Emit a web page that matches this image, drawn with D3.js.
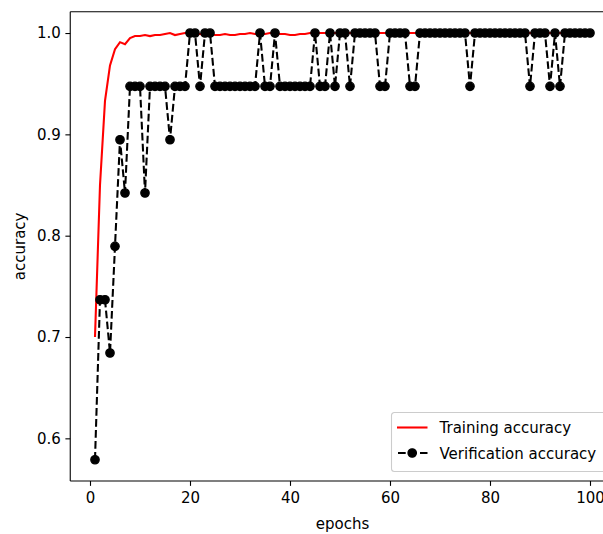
<!DOCTYPE html>
<html>
<head>
<meta charset="utf-8">
<script src="https://cdn.jsdelivr.net/npm/d3@7"></script>
<style>
  body { margin: 0; background: #fff; }
  svg { display: block; font-family: "DejaVu Sans", sans-serif; }
</style>
</head>
<body>
<div id="chart"></div>
<script>
const width = 603;
const height = 534;

// epochs 1..100
const epochs = d3.range(1, 101);

const trainingAcc = [
  0.700, 0.850, 0.933, 0.968, 0.984, 0.991, 0.989, 0.995, 0.997, 0.997,
  0.998, 0.997, 0.998, 0.998, 0.999, 1.000, 0.998, 0.999, 1.000, 1.000,
  0.999, 0.999, 0.998, 0.999, 0.998, 0.998, 0.999, 0.998, 0.998, 0.999,
  0.999, 1.000, 0.999, 0.999, 0.999, 1.000, 1.000, 0.999, 0.999, 0.998,
  0.998, 0.999, 0.999, 1.000, 1.000, 1.000, 1.000, 1.000, 1.000, 1.000,
  1.000, 1.000, 1.000, 1.000, 1.000, 1.000, 1.000, 1.000, 1.000, 1.000,
  1.000, 1.000, 1.000, 1.000, 1.000, 1.000, 1.000, 1.000, 1.000, 1.000,
  1.000, 1.000, 1.000, 1.000, 1.000, 1.000, 1.000, 1.000, 1.000, 1.000,
  1.000, 1.000, 1.000, 1.000, 1.000, 1.000, 1.000, 1.000, 1.000, 1.000,
  1.000, 1.000, 1.000, 1.000, 1.000, 1.000, 1.000, 1.000, 1.000, 1.000
];

const verificationAcc = [
  0.5789, 0.7368, 0.7368, 0.6842, 0.7895, 0.8947, 0.8421, 0.9474, 0.9474, 0.9474,
  0.8421, 0.9474, 0.9474, 0.9474, 0.9474, 0.8947, 0.9474, 0.9474, 0.9474, 1.0,
  1.0, 0.9474, 1.0, 1.0, 0.9474, 0.9474, 0.9474, 0.9474, 0.9474, 0.9474,
  0.9474, 0.9474, 0.9474, 1.0, 0.9474, 0.9474, 1.0, 0.9474, 0.9474, 0.9474,
  0.9474, 0.9474, 0.9474, 0.9474, 1.0, 0.9474, 0.9474, 1.0, 0.9474, 1.0,
  1.0, 0.9474, 1.0, 1.0, 1.0, 1.0, 1.0, 0.9474, 0.9474, 1.0,
  1.0, 1.0, 1.0, 0.9474, 0.9474, 1.0, 1.0, 1.0, 1.0, 1.0,
  1.0, 1.0, 1.0, 1.0, 1.0, 0.9474, 1.0, 1.0, 1.0, 1.0,
  1.0, 1.0, 1.0, 1.0, 1.0, 1.0, 1.0, 0.9474, 1.0, 1.0,
  1.0, 0.9474, 1.0, 0.9474, 1.0, 1.0, 1.0, 1.0, 1.0, 1.0
];

const xTicks = [0, 20, 40, 60, 80, 100];
const yTicks = [0.6, 0.7, 0.8, 0.9, 1.0];
const seriesNames = ["Training accuracy", "Verification accuracy"];

const svg = d3.select("#chart").append("svg").attr("width", width).attr("height", height);

// plot area (right edge runs past the window, as in the original)
const plotLeft = 70.25, plotRight = 614.75, plotTop = 11.7, plotBottom = 481;

const x = d3.scaleLinear().domain([-3.95, 104.95]).range([plotLeft, plotRight]);
const y = d3.scaleLinear().domain([0.5579, 1.02105]).range([plotBottom, plotTop]);

const tickFont = "15px";

// axes
const xAxis = d3.axisBottom(x).tickValues(xTicks).tickSize(4.86).tickPadding(6).tickSizeOuter(0);
const yAxis = d3.axisLeft(y).tickValues(yTicks).tickSize(4.86).tickPadding(4.5).tickSizeOuter(0)
  .tickFormat(d3.format(".1f"));

const gx = svg.append("g").attr("transform", `translate(0,${plotBottom})`).call(xAxis);
const gy = svg.append("g").attr("transform", `translate(${plotLeft},0)`).call(yAxis);
[gx, gy].forEach(g => {
  g.select(".domain").remove();
  g.selectAll("line").attr("stroke", "#000").attr("stroke-width", 1.1);
  g.selectAll("text").attr("fill", "#000").style("font-size", tickFont).style("font-family", "DejaVu Sans");
});

// spines
svg.append("line").attr("x1", plotLeft).attr("x2", plotLeft).attr("y1", plotTop).attr("y2", plotBottom)
  .attr("stroke", "#000").attr("stroke-width", 1.1);
svg.append("line").attr("x1", plotLeft).attr("x2", plotRight).attr("y1", plotBottom).attr("y2", plotBottom)
  .attr("stroke", "#000").attr("stroke-width", 1.1);
svg.append("line").attr("x1", plotLeft).attr("x2", plotRight).attr("y1", plotTop).attr("y2", plotTop)
  .attr("stroke", "#000").attr("stroke-width", 1.1);

// axis labels
svg.append("text").attr("x", (plotLeft + plotRight) / 2).attr("y", 529)
  .attr("text-anchor", "middle").style("font-size", tickFont).text("epochs");
svg.append("text").attr("transform", `translate(25,${(plotTop + plotBottom) / 2}) rotate(-90)`)
  .attr("text-anchor", "middle").style("font-size", tickFont).text("accuracy");

const line = d3.line().x((d, i) => x(epochs[i])).y(d => y(d));

svg.append("path").datum(trainingAcc).attr("d", line)
  .attr("fill", "none").attr("stroke", "red").attr("stroke-width", 2.08);

svg.append("path").datum(verificationAcc).attr("d", line)
  .attr("fill", "none").attr("stroke", "#000").attr("stroke-width", 2.08)
  .attr("stroke-dasharray", "7.7,3.3");

svg.append("g").selectAll("circle").data(verificationAcc).join("circle")
  .attr("cx", (d, i) => x(epochs[i])).attr("cy", d => y(d)).attr("r", 4.15)
  .attr("fill", "#000").attr("stroke", "#000").attr("stroke-width", 1.39);

// legend, lower right
const lg = svg.append("g").attr("transform", "translate(391.5,412.5)");
lg.append("rect").attr("width", 216).attr("height", 59).attr("rx", 3)
  .attr("fill", "#fff").attr("fill-opacity", 0.8).attr("stroke", "#ccc").attr("stroke-width", 1.1);
lg.append("line").attr("x1", 5.5).attr("x2", 36).attr("y1", 15).attr("y2", 15)
  .attr("stroke", "red").attr("stroke-width", 2.08);
lg.append("line").attr("x1", 5.5).attr("x2", 36).attr("y1", 40.5).attr("y2", 40.5)
  .attr("stroke", "#000").attr("stroke-width", 2.08).attr("stroke-dasharray", "7.7,3.3")
  .attr("stroke-dashoffset", -1);
lg.append("circle").attr("cx", 20.7).attr("cy", 40.5).attr("r", 4.15)
  .attr("fill", "#000").attr("stroke", "#000").attr("stroke-width", 1.39);
lg.selectAll("text.lbl").data(seriesNames).join("text").attr("class", "lbl")
  .attr("x", 48).attr("y", (d, i) => 20.5 + i * 25.5)
  .style("font-size", tickFont).text(d => d);
</script>
</body>
</html>
